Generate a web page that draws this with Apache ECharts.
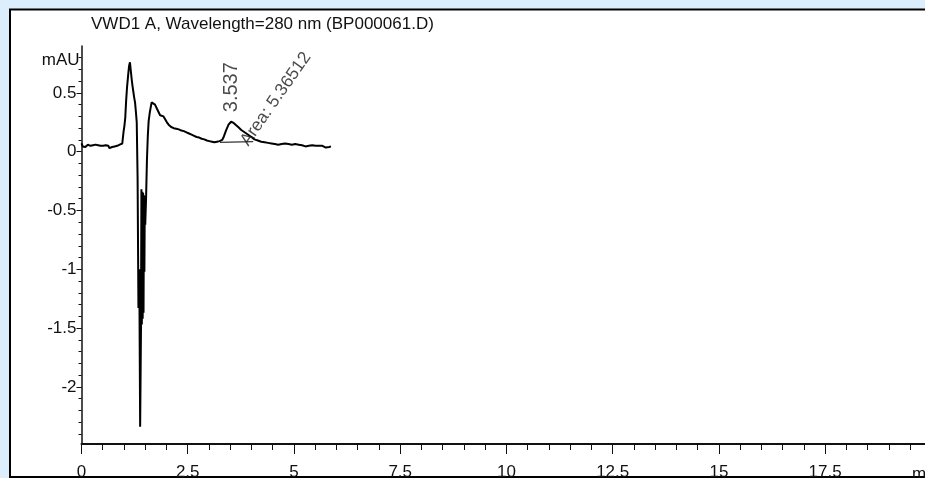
<!DOCTYPE html>
<html>
<head>
<meta charset="utf-8">
<script src="https://cdn.jsdelivr.net/npm/echarts@6/dist/echarts.min.js"></script>
<style>
html,body{margin:0;padding:0;background:#dcedfb;}
#chart{width:925px;height:478px;}
</style>
</head>
<body>
<div id="chart"></div>
<script>
// ---- data ----
const titleText = 'VWD1 A, Wavelength=280 nm (BP000061.D)';
const yUnit = 'mAU';
const xUnit = 'min';

// retention time (min)
const time = [
  0.00,0.03,0.06,0.09,0.12,0.15,0.18,0.21,0.24,0.27,0.30,0.33,0.36,0.39,0.42,0.45,0.48,0.51,0.54,0.57,
  0.60,0.63,0.66,0.69,0.72,0.75,0.78,0.81,0.84,0.87,0.90,0.93,0.96,
  0.99,1.01,1.03,1.05,1.07,1.10,1.12,1.14,1.16,1.18,1.20,1.22,1.24,1.26,1.28,1.30,1.32,1.34,1.36,
  1.38,1.39,1.40,1.41,1.42,1.43,1.44,1.45,1.46,1.47,1.48,1.49,1.50,1.52,1.54,1.56,1.58,1.61,1.65,
  1.69,1.73,1.77,1.81,1.85,1.89,1.93,1.97,2.01,2.05,2.08,2.11,2.14,2.17,2.20,2.23,2.26,2.29,2.32,
  2.35,2.38,2.41,2.44,2.47,2.50,2.53,2.56,2.59,2.62,2.65,2.68,2.71,2.74,2.77,2.80,2.83,2.86,2.89,
  2.92,2.95,2.98,3.01,3.04,3.07,3.10,3.13,3.16,3.19,3.22,3.25,3.28,3.31,3.34,3.37,3.40,3.43,3.46,
  3.49,3.52,3.55,3.58,3.61,3.64,3.67,3.70,3.73,3.76,3.79,3.82,3.85,3.88,3.91,3.94,3.97,4.00,4.03,
  4.07,4.11,4.15,4.19,4.23,4.27,4.31,4.35,4.39,4.43,4.47,4.51,4.55,4.59,4.63,4.67,4.71,4.75,4.79,
  4.83,4.87,4.91,4.95,4.99,5.03,5.07,5.11,5.15,5.19,5.23,5.27,5.31,5.35,5.39,5.43,5.47,5.51,5.55,
  5.59,5.63,5.67,5.71,5.75,5.79,5.83,5.87
];
// detector signal (mAU)
const signal = [
  0.07,0.045,0.055,0.04,0.05,0.06,0.045,0.05,0.04,0.055,0.05,0.06,0.045,0.055,0.04,0.05,0.035,0.05,0.045,0.055,
  0.04,0.05,0.03,0.045,0.04,0.03,0.045,0.04,0.05,0.045,0.06,0.055,0.07,
  0.17,0.22,0.29,0.43,0.54,0.66,0.73,0.76,0.69,0.62,0.56,0.51,0.46,0.42,0.34,0.25,-0.22,-1.33,-1.0,
  -2.34,-1.93,-1.50,-0.32,-1.47,-0.34,-1.42,-0.35,-1.37,-0.37,-1.02,-0.38,-0.62,-0.39,-0.07,0.13,0.26,0.34,0.42,
  0.43,0.40,0.37,0.34,0.31,0.32,0.30,0.29,0.25,0.23,0.24,0.21,0.225,0.20,0.215,0.195,0.21,0.19,0.20,
  0.18,0.195,0.175,0.18,0.165,0.17,0.155,0.16,0.145,0.15,0.135,0.145,0.125,0.135,0.12,0.125,0.11,0.12,0.105,
  0.11,0.095,0.105,0.09,0.10,0.085,0.095,0.08,0.09,0.085,0.08,0.09,0.085,0.10,0.12,0.15,0.18,0.205,0.23,
  0.245,0.255,0.25,0.245,0.235,0.225,0.215,0.205,0.195,0.185,0.18,0.17,0.16,0.155,0.145,0.14,0.13,0.125,0.115,
  0.105,0.11,0.095,0.10,0.085,0.095,0.08,0.09,0.075,0.085,0.07,0.08,0.065,0.075,0.06,0.07,0.065,0.06,0.07,
  0.055,0.065,0.05,0.06,0.055,0.065,0.05,0.06,0.045,0.055,0.06,0.045,0.055,0.05,0.045,0.055,0.04,0.05,0.045,
  0.05,0.04,0.05,0.045,0.035,0.05,0.04,0.045
];

// integration baseline of the labelled peak (min, mAU)
const peakBaseTime = [3.26, 4.04];
const peakBaseSignal = [0.08, 0.085];

// peak annotation
const peakRT = 3.537;
const peakApex = 0.255;
const peakRTLabel = '3.537';
const peakAreaLabel = 'Area: 5.36512';
const areaLabelAnchor = [3.83, 0.065];

// axes
const xMin = 0, xMax = 19.85;
const yMin = -2.486, yMax = 0.899;
const xMajorTicks = [0, 2.5, 5, 7.5, 10, 12.5, 15, 17.5];
const xTickLabels = ['0', '2.5', '5', '7.5', '10', '12.5', '15', '17.5'];
const yMajorTicks = [-2, -1.5, -1, -0.5, 0, 0.5];
const yTickLabels = ['-2', '-1.5', '-1', '-0.5', '0', '0.5'];
const xMinorStep = 0.5;
const yMinorStep = 0.1;

// ---- build chart ----
const xMinorTicks = [];
for (let i = 0; i * xMinorStep <= xMax; i++) xMinorTicks.push(+(i * xMinorStep).toFixed(2));
const yMinorTicks = [];
for (let i = Math.ceil(yMin / yMinorStep); i * yMinorStep <= yMax; i++) yMinorTicks.push(+(i * yMinorStep).toFixed(2));

const FONT = "'Liberation Sans', Arial, sans-serif";
const INK = '#111';

const traceData = time.map((t, i) => [t, signal[i]]);
const baseData = peakBaseTime.map((t, i) => [t, peakBaseSignal[i]]);

const chart = echarts.init(document.getElementById('chart'), null, {renderer: 'canvas'});
chart.setOption({
  animation: false,
  backgroundColor: '#dcedfb',
  graphic: [{
    type: 'rect', z: -100, silent: true,
    shape: {x: 10, y: 9.5, width: 930, height: 467.5},
    style: {fill: '#ffffff', stroke: '#000', lineWidth: 2}
  }],
  title: {
    text: titleText, left: 86, top: 11,
    textStyle: {fontFamily: FONT, fontSize: 17, fontWeight: 'normal', color: INK}
  },
  grid: {left: 81.5, right: 0, top: 46, bottom: 34, containLabel: false, outerBoundsMode: 'none'},
  xAxis: [{
    type: 'value', min: xMin, max: xMax, position: 'bottom',
    name: xUnit, nameLocation: 'end', nameGap: -13,
    nameTextStyle: {fontFamily: FONT, fontSize: 17, color: INK, align: 'left', verticalAlign: 'top', padding: [22, 0, 0, 0]},
    axisLine: {show: true, onZero: false, lineStyle: {color: '#111', width: 2}},
    axisTick: {show: true, customValues: xMajorTicks, length: 10, lineStyle: {color: '#111', width: 1}},
    axisLabel: {show: true, customValues: xMajorTicks, margin: 20, fontFamily: FONT, fontSize: 17, color: INK,
      formatter: v => xTickLabels[xMajorTicks.indexOf(+v)] ?? ''},
    splitLine: {show: false}
  }, {
    type: 'value', min: xMin, max: xMax, position: 'bottom',
    axisLine: {show: false, onZero: false},
    axisTick: {show: true, customValues: xMinorTicks, length: 6, lineStyle: {color: '#111', width: 1}},
    axisLabel: {show: false},
    splitLine: {show: false}
  }],
  yAxis: [{
    type: 'value', min: yMin, max: yMax, position: 'left',
    name: yUnit, nameLocation: 'end', nameGap: -14,
    nameTextStyle: {fontFamily: FONT, fontSize: 17, color: INK, align: 'right', verticalAlign: 'middle', padding: [0, 2, 0, 0]},
    axisLine: {show: true, onZero: false, lineStyle: {color: '#111', width: 1.5}},
    axisTick: {show: true, customValues: yMajorTicks, length: 5, lineStyle: {color: '#111', width: 1}},
    axisLabel: {show: true, customValues: yMajorTicks, margin: 5, fontFamily: FONT, fontSize: 17, color: INK,
      formatter: v => yTickLabels[yMajorTicks.indexOf(+v)] ?? ''},
    splitLine: {show: false}
  }, {
    type: 'value', min: yMin, max: yMax, position: 'left',
    axisLine: {show: false, onZero: false},
    axisTick: {show: true, customValues: yMinorTicks, length: 3, lineStyle: {color: '#111', width: 1}},
    axisLabel: {show: false},
    splitLine: {show: false}
  }],
  series: [{
    type: 'line', data: traceData, showSymbol: false, symbol: 'none',
    lineStyle: {color: '#000', width: 2}, z: 3
  }, {
    type: 'line', data: baseData, showSymbol: false, symbol: 'none',
    lineStyle: {color: '#000', width: 1}, z: 3
  }, {
    type: 'scatter', data: [[peakRT, peakApex]], symbolSize: 1, itemStyle: {color: 'rgba(0,0,0,0)'},
    label: {show: true, formatter: peakRTLabel, position: 'top', distance: 9, rotate: 90,
      align: 'left', verticalAlign: 'middle', fontFamily: FONT, fontSize: 20, color: '#1a1a1a'}, z: 4
  }, {
    type: 'scatter', data: [areaLabelAnchor], symbolSize: 1, itemStyle: {color: 'rgba(0,0,0,0)'},
    label: {show: true, formatter: peakAreaLabel, position: 'inside', rotate: 55,
      align: 'left', verticalAlign: 'middle', fontFamily: FONT, fontSize: 17.5, color: '#1a1a1a'}, z: 4
  }]
});
</script>
</body>
</html>
